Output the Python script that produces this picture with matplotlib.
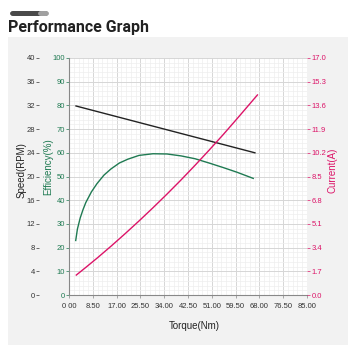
import matplotlib.pyplot as plt
from matplotlib.patches import FancyBboxPatch, Rectangle
from matplotlib.ticker import MultipleLocator

plt.rcParams['font.family'] = ['Liberation Sans', 'DejaVu Sans']

# dados
torque_vel = [2.5, 66.4]
velocidade = [31.9, 24.0]

torque_ef = [2.4, 3.0, 4.0, 5.0, 6.0, 8.0, 10.0, 12.5, 15.0, 18.0, 21.0, 25.0,
             30.0, 35.0, 40.0, 45.0, 50.0, 55.0, 60.0, 65.8]
eficiencia = [23.0, 27.8, 32.5, 36.0, 39.0, 43.5, 47.0, 50.6, 53.2, 55.7, 57.3, 58.9,
              59.6, 59.5, 58.7, 57.5, 55.7, 53.8, 51.8, 49.2]

torque_cor = [2.6, 6.0, 10.0, 15.0, 20.0, 25.0, 30.0, 35.0, 40.0, 45.0, 50.0,
              55.0, 60.0, 67.3]
corrente = [1.43, 1.98, 2.64, 3.50, 4.39, 5.31, 6.26, 7.24, 8.25, 9.30, 10.38,
            11.49, 12.64, 14.35]

xticks = [0, 8.5, 17, 25.5, 34, 42.5, 51, 59.5, 68, 76.5, 85]
xlabels = ['0 00', '8.50', '17.00', '25.50', '34.00', '42.50', '51.00',
           '59.50', '68.00', '76.50', '85.00']

verde = '#1f7a52'
rosa = '#dc1468'
cinza = '#333333'

W, H = 361, 356
fig = plt.figure(figsize=(W / 100, H / 100), dpi=100)
fig.patch.set_facecolor('white')

# fundo cinza e barrinha do topo
fig.patches.append(Rectangle((8 / W, 1 - 345 / H), 340 / W, 308 / H,
                             transform=fig.transFigure, facecolor='#f2f2f2',
                             edgecolor='none', zorder=-10))
fig.patches.append(FancyBboxPatch((10 / W, 1 - 16 / H), 38 / W, 5 / H,
                                  boxstyle='round,pad=0,rounding_size=0.008',
                                  transform=fig.transFigure, facecolor='#4a4a4a',
                                  edgecolor='none'))
fig.patches.append(FancyBboxPatch((38 / W, 1 - 16 / H), 11 / W, 5 / H,
                                  boxstyle='round,pad=0,rounding_size=0.008',
                                  transform=fig.transFigure, facecolor='#a0a0a0',
                                  edgecolor='none'))
fig.text(8 / W, 1 - 32 / H, 'Performance Graph', fontsize=11.5, fontweight='bold',
         family=['Roboto', 'DejaVu Sans'], color='#222222', va='baseline', ha='left')

ax = fig.add_axes([69 / W, 1 - 295 / H, 238 / W, 237 / H])
ax.set_facecolor('white')
ax.set_xlim(0, 85)
ax.set_ylim(0, 100)
ax.set_xticks(xticks)
ax.set_xticklabels(xlabels)
ax.xaxis.set_minor_locator(MultipleLocator(1.7))
ax.set_yticks(range(0, 101, 10))
ax.yaxis.set_minor_locator(MultipleLocator(2))
ax.grid(which='major', color='#d6d6d6', linewidth=0.7)
ax.grid(which='minor', color='#eeeeee', linewidth=0.5)
ax.set_axisbelow(True)
for s in ['top', 'right']:
    ax.spines[s].set_visible(False)
for s in ['left', 'bottom']:
    ax.spines[s].set_color('#888888')
    ax.spines[s].set_linewidth(0.8)
ax.tick_params(which='minor', length=0)
ax.tick_params(axis='x', length=2.5, width=0.5, pad=3.5, labelsize=5.5,
               colors='#888888', labelcolor=cinza)
ax.tick_params(axis='y', length=2, width=0.5, pad=1, labelsize=5.5, colors=verde)

ax.plot(torque_ef, eficiencia, color=verde, linewidth=1.0)

ax_v = ax.twinx()
ax_v.set_ylim(0, 40)
ax_v.set_yticks(range(0, 41, 4))
ax_v.yaxis.set_ticks_position('left')
ax_v.yaxis.set_label_position('left')
ax_v.spines['left'].set_position(('axes', -30 / 238))
for s in ax_v.spines.values():
    s.set_visible(False)
ax_v.tick_params(axis='y', length=2, width=0.5, pad=1, labelsize=5.5, colors=cinza)
ax_v.plot(torque_vel, velocidade, color='#222222', linewidth=1.0)

ax_c = ax.twinx()
ax_c.set_ylim(0, 17)
ax_c.set_yticks([i * 1.7 for i in range(11)])
ax_c.set_yticklabels(['%.1f' % (i * 1.7) for i in range(11)])
for s in ax_c.spines.values():
    s.set_visible(False)
ax_c.tick_params(axis='y', length=2, width=0.5, pad=1.5, labelsize=5.5, colors=rosa)
ax_c.plot(torque_cor, corrente, color=rosa, linewidth=1.0)

fig.text(22 / W, 1 - 170 / H, 'Speed(RPM)', rotation=90, fontsize=7,
         color='#222222', ha='center', va='center')
fig.text(48 / W, 1 - 167 / H, 'Efficiency(%)', rotation=90, fontsize=7,
         color=verde, ha='center', va='center')
fig.text(333 / W, 1 - 170 / H, 'Current(A)', rotation=90, fontsize=7,
         color=rosa, ha='center', va='center')
fig.text(194 / W, 1 - 326 / H, 'Torque(Nm)', fontsize=7, color='#222222',
         ha='center', va='center')

fig.savefig('out.png', dpi=100)
